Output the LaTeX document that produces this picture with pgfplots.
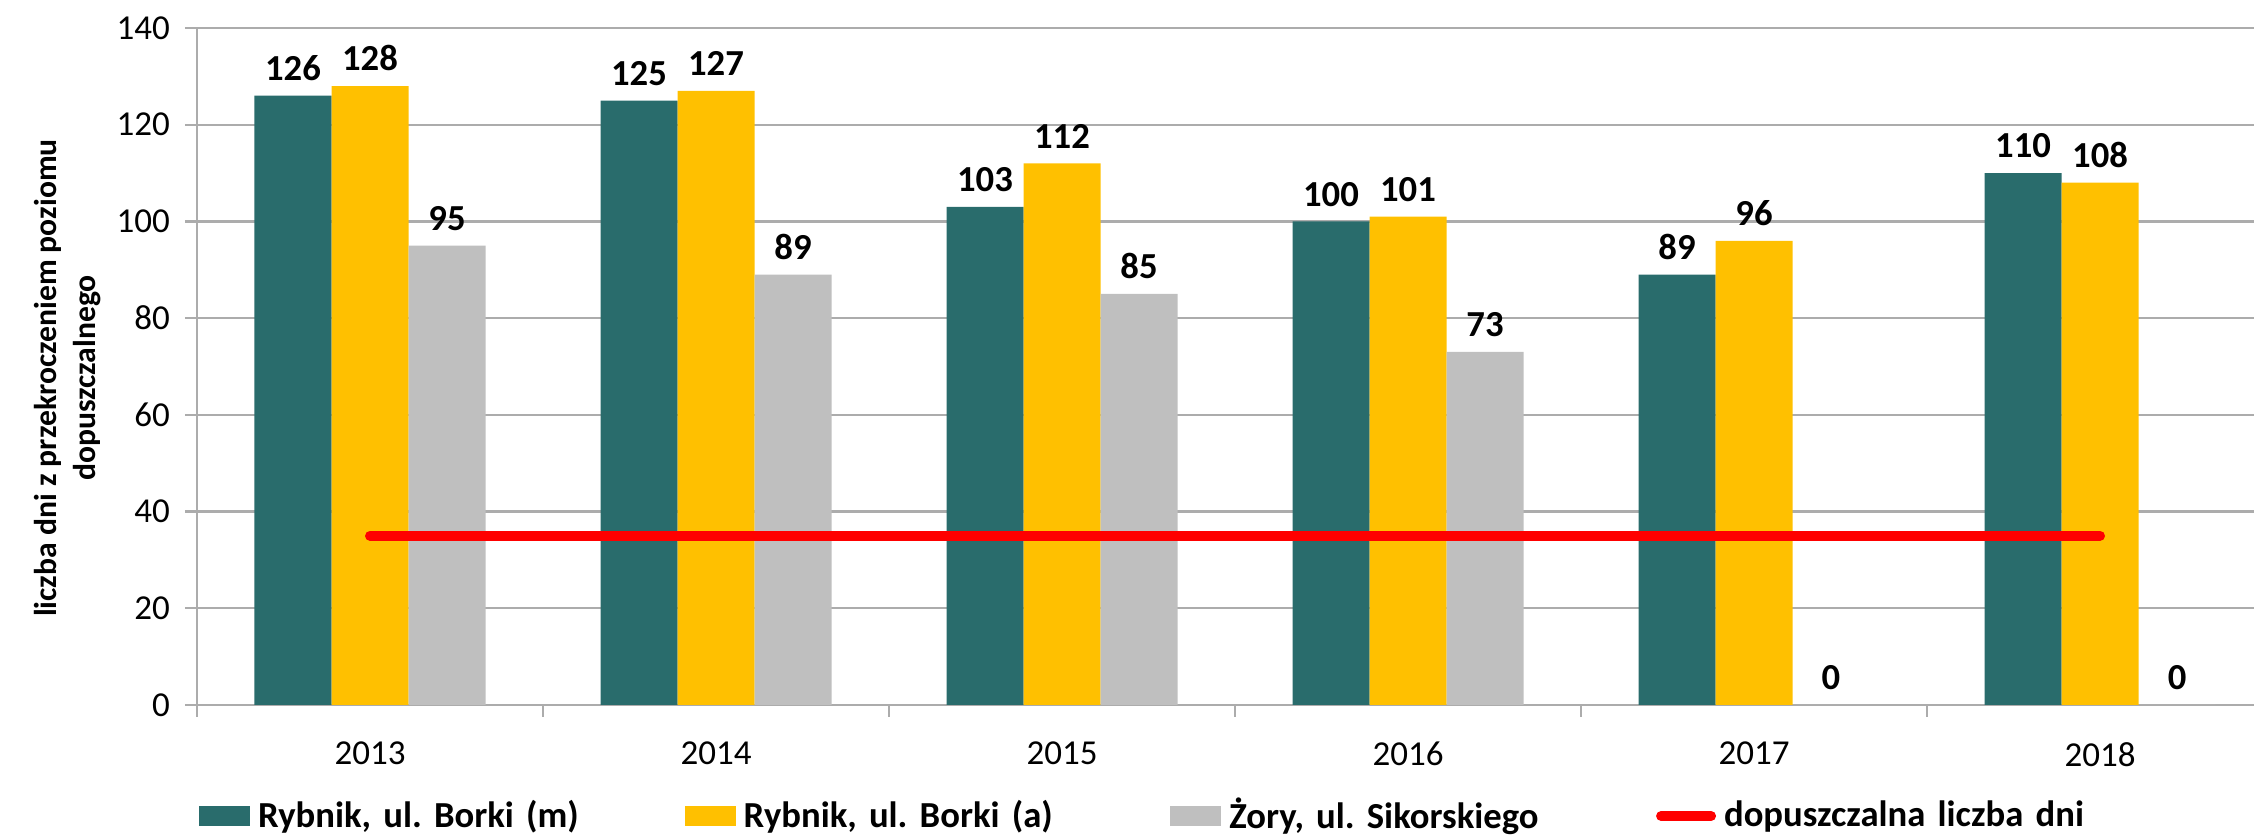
\documentclass[border=0pt]{standalone}
\usepackage{fontspec}
\setmainfont{Carlito}
\usepackage{pgfplots}
\pgfplotsset{compat=1.18}
\usetikzlibrary{calc}

\definecolor{teal1}{RGB}{41,108,108}
\definecolor{yel1}{RGB}{255,192,0}
\definecolor{gray1}{RGB}{191,191,191}
\definecolor{gridc}{RGB}{172,172,172}

\pgfplotsset{
    barleg/.style={legend image code/.code={\fill[##1] (0pt,-3pt) rectangle (15.3pt,3pt);}},
    lineleg/.style={legend image code/.code={\draw[##1] (1pt,0pt) -- (16pt,0pt);}},
}

\begin{document}
\frenchspacing
\begin{tikzpicture}
\begin{axis}[
    scale only axis,
    width=617.1pt, height=203.1pt,
    xmin=-0.5, xmax=5.445,
    ymin=0, ymax=140,
    ytick={0,20,...,140},
    xtick={0,1,2,3,4,5},
    xticklabels={2013,2014,2015,2016,2017,2018},
    minor xtick={-0.5,0.5,1.5,2.5,3.5,4.5},
    major x tick style={draw=none},
    tick align=outside,
    xtick pos=bottom, ytick pos=left,
    major tick length=3.6pt, minor tick length=3.6pt,
    every tick/.style={gridc, line width=0.7pt},
    axis x line*=bottom, axis y line*=left,
    axis line style={gridc, line width=0.7pt},
    ymajorgrids,
    major grid style={gridc, line width=0.7pt},
    /pgf/number format/assume math mode=true,
    ticklabel style={font=\fontsize{10.5}{12}\selectfont},
    yticklabel style={xshift=-1pt},
    xticklabel style={yshift=-4pt},
    ylabel={liczba dni z przekroczeniem poziomu\\dopuszczalnego},
    ylabel style={at={(axis description cs:-0.063,0.483)}, anchor=center,
        align=center, font=\bfseries\fontsize{9.5}{11.7}\selectfont},
    legend columns=4,
    legend style={draw=none, fill=none, at={(axis description cs:0.001,-0.164)},
        anchor=west, inner sep=0pt, outer sep=0pt,
        font=\bfseries\fontsize{11}{13}\selectfont,
        nodes={inner sep=0pt, text width=128pt, align=left},
        /tikz/every odd column/.append style={column sep=2.4pt}},
    nodes near coords style={font=\bfseries\fontsize{11}{13}\selectfont, black, yshift=1pt},
]
\addplot[ybar, bar width=23.1pt, bar shift=-23.1pt, fill=teal1, draw=none,
    nodes near coords, every node near coord/.append style={xshift=-23.1pt},
    barleg] coordinates {
    (0,126) (1,125) (2,103) (3,100) (4,89) (5,110)
};
\addplot[ybar, bar width=23.1pt, bar shift=0pt, fill=yel1, draw=none,
    nodes near coords, barleg] coordinates {
    (0,128) (1,127) (2,112) (3,101) (4,96) (5,108)
};
\addplot[ybar, bar width=23.1pt, bar shift=23.1pt, fill=gray1, draw=none,
    nodes near coords, every node near coord/.append style={xshift=23.1pt},
    barleg] coordinates {
    (0,95) (1,89) (2,85) (3,73) (4,0) (5,0)
};
\addplot[red, line width=3pt, line cap=round, lineleg] coordinates {
    (0,35) (1,35) (2,35) (3,35) (4,35) (5,35)
};
\legend{{Rybnik, ul. Borki (m)}, {Rybnik, ul. Borki (a)}, {Żory, ul. Sikorskiego}, {dopuszczalna liczba dni}}
\end{axis}
\pgfresetboundingbox
\path ($(current axis.south west)+(-59.1pt,-39pt)$) rectangle ($(current axis.north east)+(0pt,8.4pt)$);
\end{tikzpicture}
\end{document}
